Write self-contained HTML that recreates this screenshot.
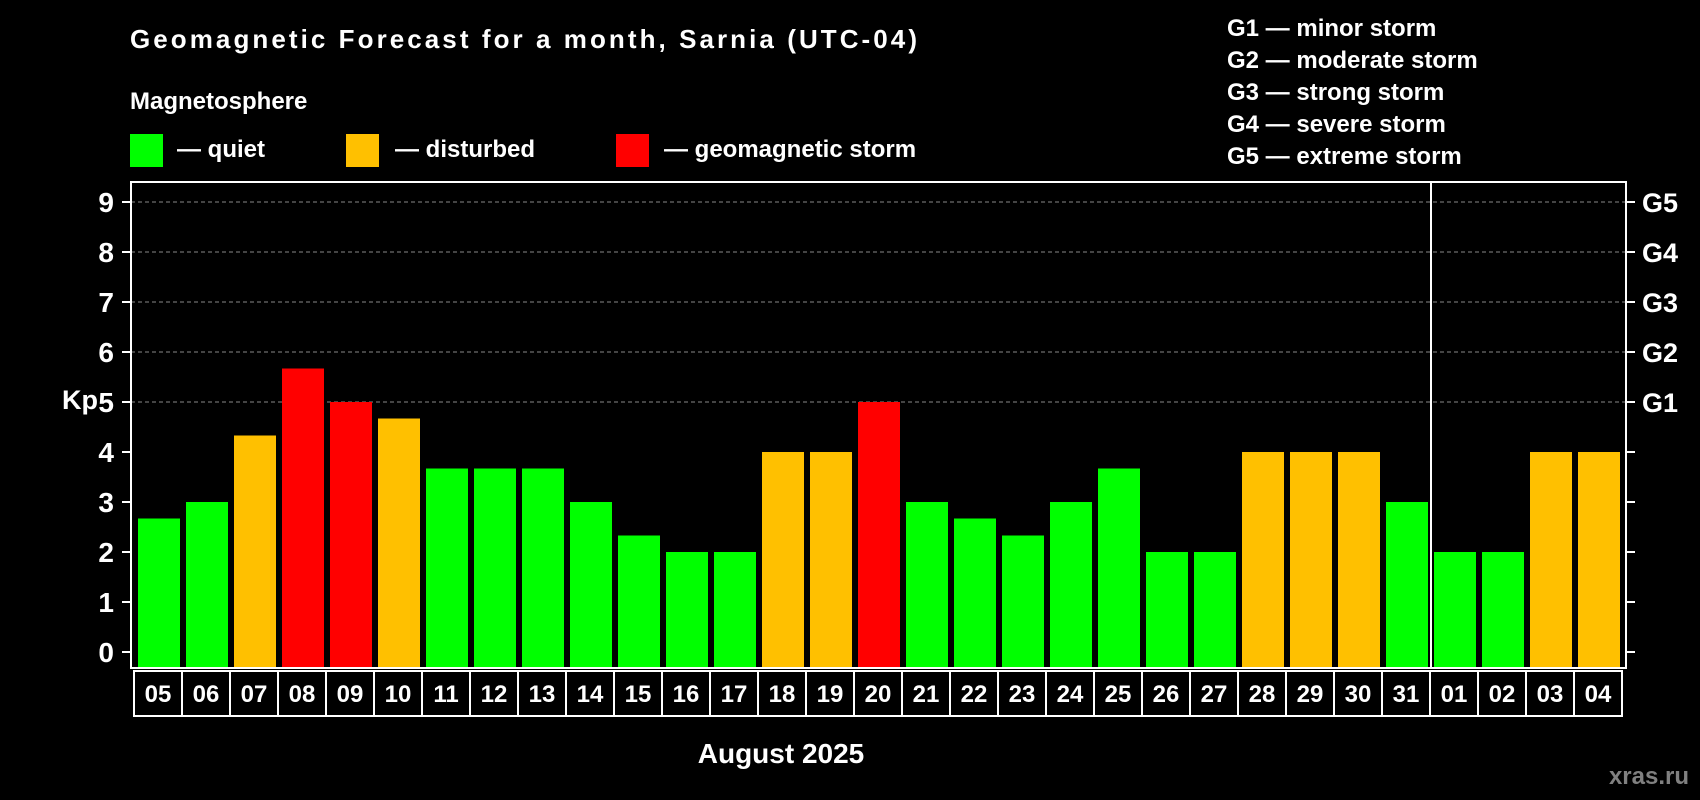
<!DOCTYPE html>
<html><head><meta charset="utf-8"><style>
html,body{margin:0;padding:0;background:#000;}
svg{display:block;font-family:"Liberation Sans",Arial,sans-serif;font-weight:bold;}
</style></head><body>
<svg id="chart" width="1700" height="800" viewBox="0 0 1700 800">
<rect x="0" y="0" width="1700" height="800" fill="#000"/>
<text x="130" y="48" font-size="26" fill="#fff" textLength="787">Geomagnetic Forecast for a month, Sarnia (UTC-04)</text>
<text x="130" y="109" font-size="24" fill="#fff">Magnetosphere</text>
<g>
<rect x="130" y="134" width="33" height="33" fill="#00ff00"/>
<text x="177" y="157" font-size="24" fill="#fff">— quiet</text></g>
<g>
<rect x="346" y="134" width="33" height="33" fill="#ffc000"/>
<text x="395" y="157" font-size="24" fill="#fff">— disturbed</text></g>
<g>
<rect x="616" y="134" width="33" height="33" fill="#ff0000"/>
<text x="664" y="157" font-size="24" fill="#fff">— geomagnetic storm</text></g>
<g font-size="24" fill="#fff">
<text x="1227" y="36">G1 — minor storm</text>
<text x="1227" y="68">G2 — moderate storm</text>
<text x="1227" y="100">G3 — strong storm</text>
<text x="1227" y="132">G4 — severe storm</text>
<text x="1227" y="164">G5 — extreme storm</text>
</g>
<text x="62" y="409" font-size="27" fill="#fff">Kp</text>
<text x="781" y="763" font-size="28" fill="#fff" text-anchor="middle">August 2025</text>
<text x="1689" y="784" font-size="24" fill="#808080" text-anchor="end">xras.ru</text>
<g id="grid"></g><g id="bars"></g><g id="axes"></g><g id="xlabels"></g>
</svg>
<script>
const days = ["05","06","07","08","09","10","11","12","13","14","15","16","17","18","19","20","21","22","23","24","25","26","27","28","29","30","31","01","02","03","04"];
const kpValues = [2.67,3,4.33,5.67,5,4.67,3.67,3.67,3.67,3,2.33,2,2,4,4,5,3,2.67,2.33,3,3.67,2,2,4,4,4,3,2,2,4,4];
const yTicks = [0,1,2,3,4,5,6,7,8,9];
const gLabels = ["G1","G2","G3","G4","G5"];
const gLevels = [5,6,7,8,9];
const monthBreakIndex = 27;

const NS = "http://www.w3.org/2000/svg";
const L = 131, R = 1626, T = 182, B = 668;
const y0 = 652, unit = 50;
const yScale = v => y0 - v * unit;
const step = 48, barW = 42, firstX = 138;
const xScale = i => firstX + i * step;
function mk(tag, attrs, parent){ const e = document.createElementNS(NS, tag); for (const k in attrs) e.setAttribute(k, attrs[k]); parent.appendChild(e); return e; }
const grid = document.getElementById("grid"), bars = document.getElementById("bars"), axes = document.getElementById("axes"), xl = document.getElementById("xlabels");

gLevels.forEach((lv, i) => {
  const ln = mk("line", {x1: L, x2: R, y1: yScale(lv), y2: yScale(lv), stroke: "#888", "stroke-width": 1, "stroke-dasharray": "4,3"}, grid);
  
  
  const t = mk("text", {x: 1642, y: yScale(lv) + 10, "font-size": 27, fill: "#fff"}, axes);
  t.textContent = gLabels[i];
  
  
});

kpValues.forEach((v, i) => {
  const col = v >= 5 ? "#ff0000" : (v >= 4 ? "#ffc000" : "#00ff00");
  const r = mk("rect", {x: xScale(i), y: yScale(v), width: barW, height: B - yScale(v), fill: col}, bars);
  
  
});

yTicks.forEach(v => {
  const tl = mk("line", {x1: L - 9, x2: L, y1: yScale(v), y2: yScale(v), stroke: "#fff", "stroke-width": 2}, axes);
  
  
  const tr = mk("line", {x1: R, x2: R + 9, y1: yScale(v), y2: yScale(v), stroke: "#fff", "stroke-width": 2}, axes);
  
  
  const t = mk("text", {x: 114, y: yScale(v) + 10, "font-size": 28, fill: "#fff", "text-anchor": "end"}, axes);
  t.textContent = v;
  
  
});

const frame = mk("rect", {x: L, y: T, width: R - L, height: B - T, fill: "none", stroke: "#fff", "stroke-width": 2}, axes);


const divX = xScale(monthBreakIndex) - 3;
const div = mk("line", {x1: divX, x2: divX, y1: T, y2: B, stroke: "#fff", "stroke-width": 2}, axes);



days.forEach((d, i) => {
  const bx = xScale(i) - 4;
  const box = mk("rect", {x: bx, y: 671, width: step, height: 45, fill: "#000", stroke: "#fff", "stroke-width": 2}, xl);
  
  
  const t = mk("text", {x: bx + step / 2, y: 702, "font-size": 24, fill: "#fff", "text-anchor": "middle"}, xl);
  t.textContent = d;
  
  
});
</script>
</body></html>
